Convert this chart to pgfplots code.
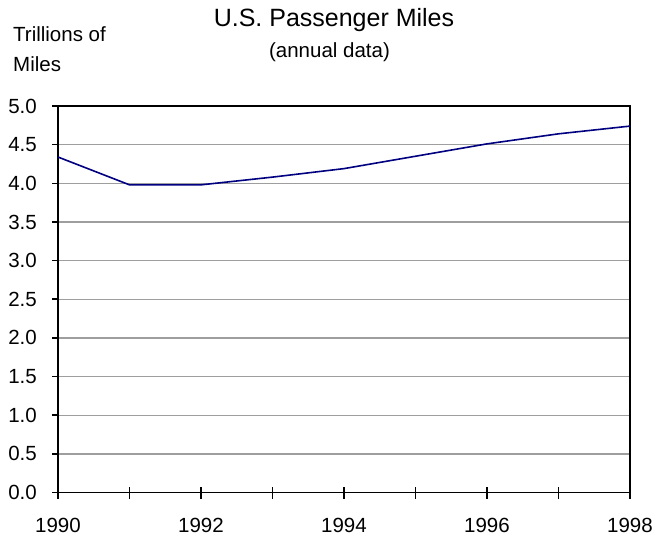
\documentclass[border=0pt]{standalone}
\usepackage{fontspec}
\setmainfont{Liberation Sans}
\usepackage{pgfplots}
\pgfplotsset{compat=1.18}
\begin{document}
\begin{tikzpicture}
\useasboundingbox (-58bp,-44.5bp) rectangle (600bp,492.5bp);
\begin{axis}[
  at={(0,0)}, anchor=south west,
  scale only axis,
  width=572bp, height=386.5bp,
  xmin=1990, xmax=1998, ymin=0, ymax=5,
  xtick={1990,1991,...,1998},
  xticklabels={1990,,1992,,1994,,1996,,1998},
  ytick={0,0.5,...,5},
  yticklabel style={/pgf/number format/fixed,/pgf/number format/fixed zerofill,/pgf/number format/precision=1},
  /pgf/number format/assume math mode=true,
  xtick pos=bottom, ytick pos=left,
  ymajorgrids,
  major grid style={line width=1.4bp, color=black!38},
  axis line style={line width=1.8bp, black},
  xtick align=center,
  ytick align=outside,
  major tick length=6bp,
  x tick style={line width=1.5bp, black, /pgfplots/major tick length=12bp},
  y tick style={line width=1.5bp, black},
  tick label style={font=\fontsize{20.5bp}{24bp}\selectfont, inner sep=0pt},
  xticklabel style={anchor=north, yshift=-22bp, text depth=0pt},
  yticklabel style={anchor=east, xshift=-15bp},
  clip=false,
]
\addplot[color={rgb,255:red,0;green,0;blue,128}, line width=1.6bp] coordinates {
 (1990,4.34) (1991,3.98) (1992,3.98) (1993,4.08) (1994,4.19)
 (1995,4.35) (1996,4.51) (1997,4.64) (1998,4.74)
};
\end{axis}
\node[anchor=base, inner sep=0pt, font=\fontsize{25bp}{30bp}\selectfont] at (276bp,466bp) {U.S. Passenger Miles};
\node[anchor=base, inner sep=0pt, font=\fontsize{20.5bp}{24bp}\selectfont] at (271.5bp,435bp) {(annual data)};
\node[anchor=base west, inner sep=0pt, font=\fontsize{20.5bp}{24bp}\selectfont] at (-45bp,451bp) {Trillions of};
\node[anchor=base west, inner sep=0pt, font=\fontsize{20.5bp}{24bp}\selectfont] at (-45bp,420.5bp) {Miles};
\end{tikzpicture}
\end{document}
